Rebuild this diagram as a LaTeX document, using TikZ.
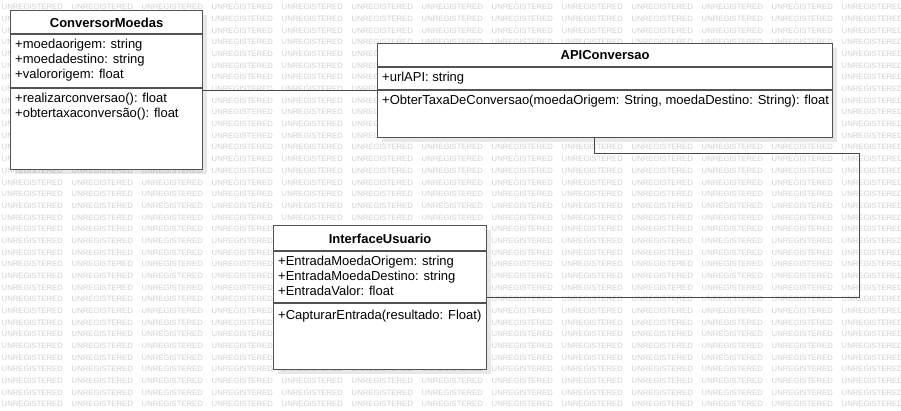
\documentclass[tikz,border=0pt]{standalone}
\usepackage{fontspec}
\setmainfont{Liberation Sans}
\usetikzlibrary{shadows}

\begin{document}
\begin{tikzpicture}[x=1pt, y=-1pt]
  \tikzstyle{classbox} = [rectangle, draw=black!68, fill=white, line width=1.2pt, anchor=north west, inner sep=0pt, drop shadow={shadow xshift=4pt, shadow yshift=-4pt, fill=black, opacity=0.09}]
  \tikzstyle{classname} = [font=\bfseries\fontsize{13}{15}\selectfont, inner sep=0pt]
  \tikzstyle{members} = [font=\fontsize{13}{15}\selectfont, align=left, anchor=north west, inner sep=0pt]
  \tikzstyle{sep} = [draw=black!68, line width=1.2pt]
  \tikzstyle{link} = [draw=black!72, line width=1pt]
  \tikzstyle{wm} = [font=\fontsize{7.7}{8}\selectfont, text=black!18, anchor=west, inner sep=0pt]

  \useasboundingbox (0,0) rectangle (901,410);
  \fill[white] (0,0) rectangle (901,410);

  % watermark
  \foreach \r in {0,...,34}
    \foreach \c in {0,...,12}
      \node[wm] (wm-\r-\c) at (1.5+70*\c, 7.3+11.67*\r) {UNREGISTERED};

  % ConversorMoedas
  \node[classbox, minimum width=192pt, minimum height=159pt] (conv) at (10,10) {};
  \draw[sep] (conv.west |- 0,34) -- (conv.east |- 0,34);
  \draw[sep] (conv.west |- 0,88) -- (conv.east |- 0,88);
  \node[classname] (conv-name) at (conv.north |- 0,22.5) {ConversorMoedas};
  \node[members] (conv-attr) at (15,38.9) {+moedaorigem: string\\+moedadestino: string\\+valororigem: float};
  \node[members] (conv-ops) at (15,92.9) {+realizarconversao(): float\\+obtertaxaconversão(): float};

  % APIConversao
  \node[classbox, minimum width=455pt, minimum height=94pt] (api) at (377,43) {};
  \draw[sep] (api.west |- 0,67) -- (api.east |- 0,67);
  \draw[sep] (api.west |- 0,90) -- (api.east |- 0,90);
  \node[classname] (api-name) at (api.north |- 0,55) {APIConversao};
  \node[members] (api-attr) at (382,71.9) {+urlAPI: string};
  \node[members] (api-ops) at (382,94.9) {+ObterTaxaDeConversao(moedaOrigem: String, moedaDestino: String): float};

  % InterfaceUsuario
  \node[classbox, minimum width=213pt, minimum height=144pt] (ui) at (273,225) {};
  \draw[sep] (ui.west |- 0,251) -- (ui.east |- 0,251);
  \draw[sep] (ui.west |- 0,303) -- (ui.east |- 0,303);
  \node[classname] (ui-name) at (ui.north |- 0,239) {InterfaceUsuario};
  \node[members] (ui-attr) at (278,255.6) {+EntradaMoedaOrigem: string\\+EntradaMoedaDestino: string\\+EntradaValor: float};
  \node[members] (ui-ops) at (278,309.6) {+CapturarEntrada(resultado: Float)};

  % links
  \coordinate (turn) at (859,153);
  \draw[link] (conv.east) -- (conv.east -| api.west);
  \draw[link] (api.south -| 594,0) |- (turn) |- (ui.east);
\end{tikzpicture}
\end{document}
